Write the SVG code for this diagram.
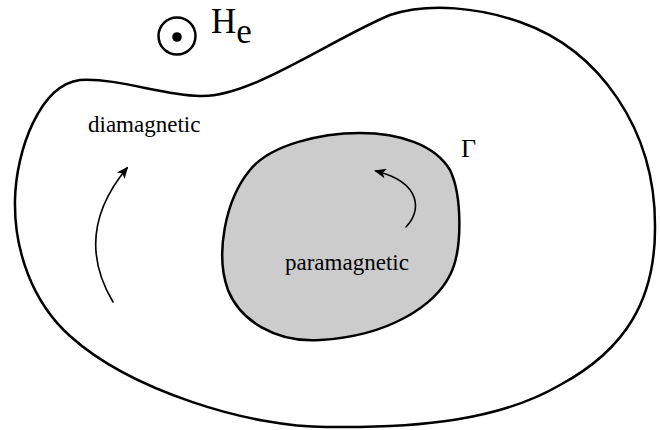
<svg xmlns="http://www.w3.org/2000/svg" width="660" height="430" viewBox="0 0 660 430">
  <style>
    .outline { fill: none; stroke: #000; stroke-width: 2.5; stroke-linejoin: round; }
    .region { fill: #cccccc; stroke: #000; stroke-width: 2.5; stroke-linejoin: round; }
    .flow { fill: none; stroke: #000; stroke-width: 1.6; stroke-linecap: round; }
    .label { font-family: "Liberation Serif", "Times New Roman", serif; fill: #000; }
  </style>
  <defs>
    <marker id="arrow" viewBox="0 0 12 10" refX="10" refY="5" markerWidth="12" markerHeight="10" markerUnits="userSpaceOnUse" orient="auto">
      <path d="M0,0 L12,5 L0,10 L3,5 Z" fill="#000"/>
    </marker>
  </defs>
  <rect width="660" height="430" fill="#fff"/>

  <g id="outer-body">
    <path class="outline" d="M 80,80 C 120,78 160,95 200,96 C 250,98 330,40 390,15 C 430,2 480,8 520,22 C 600,50 655,130 655,225 C 656,300 625,350 560,385 C 500,420 420,428 330,427 C 250,428 130,390 70,336 C 32,302 14,250 15,200 C 16,150 40,85 80,80 Z"/>
  </g>

  <g id="paramagnetic-region">
    <path class="region" d="M 360,133 C 400,133 435,145 450,170 C 462,195 463,250 450,275 C 435,305 390,336 320,340 C 275,343 240,320 228,290 C 215,255 225,200 250,170 C 270,145 320,133 360,133 Z"/>
    <text class="label" x="285" y="270" font-size="23" fill="#222">paramagnetic</text>
  </g>

  <g id="diamagnetic-label">
    <text class="label" x="88" y="132" font-size="23">diamagnetic</text>
  </g>

  <g id="gamma-label">
    <text class="label" x="461" y="157" font-size="26">Γ</text>
  </g>

  <g id="field-He">
    <circle cx="177" cy="36" r="18.5" fill="none" stroke="#000" stroke-width="2.5"/>
    <circle cx="177" cy="37" r="4.8" fill="#000"/>
    <text class="label" x="211" y="33" font-size="35">H<tspan dy="10">e</tspan></text>
  </g>

  <g id="connectors">
    <path class="flow" d="M 113,302 C 88,260 88,215 127,168" marker-end="url(#arrow)"/>
    <path class="flow" d="M 406,227 C 421,212 423,183 376,171" marker-end="url(#arrow)"/>
  </g>
</svg>
